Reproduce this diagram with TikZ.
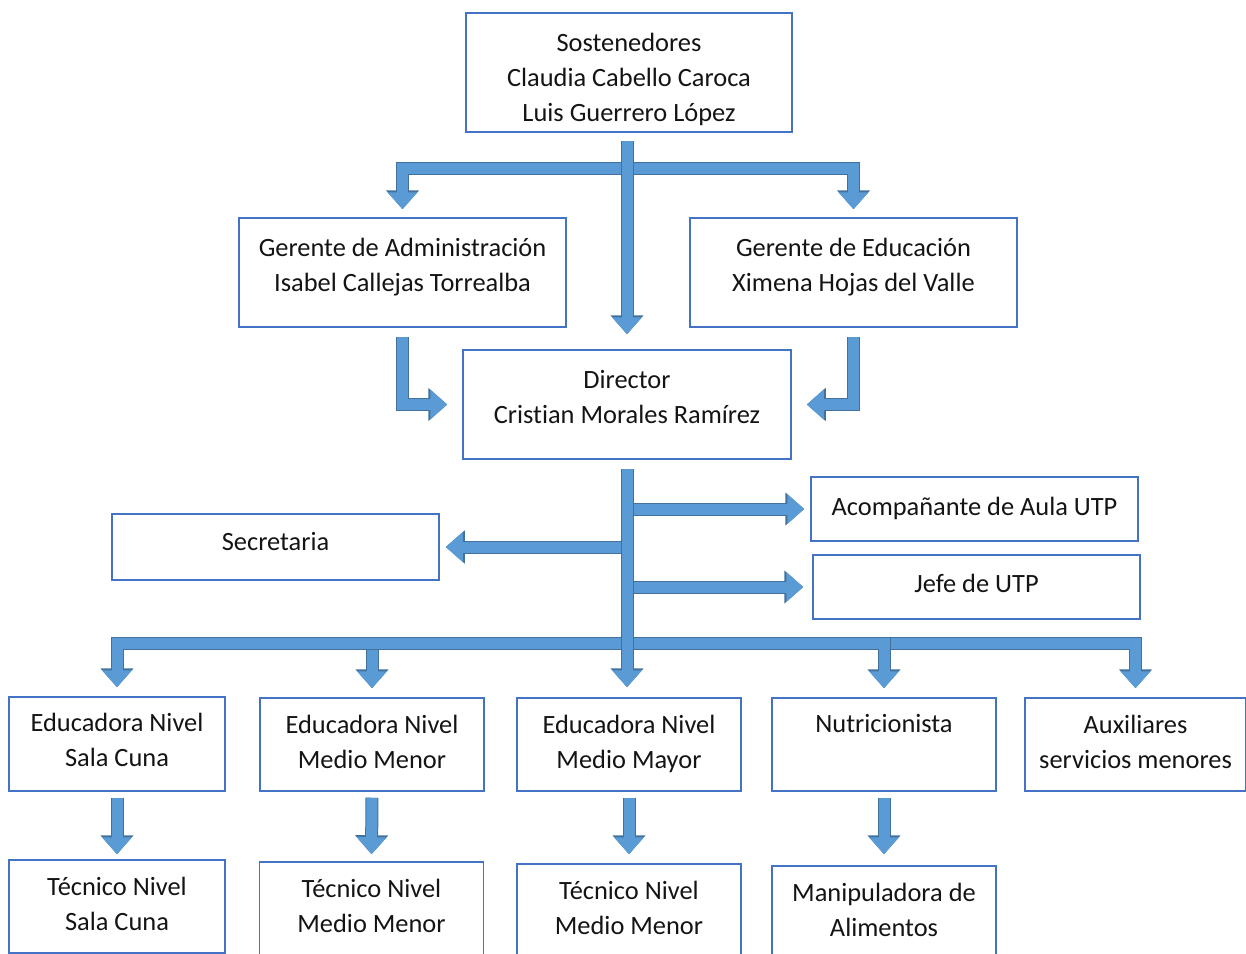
\documentclass[tikz,border=0pt]{standalone}
\usepackage{fontspec}
\setmainfont{Carlito}[Ligatures=NoCommon]
\usepackage{xcolor}
\usetikzlibrary{arrows.meta}
\usetikzlibrary{positioning}

\definecolor{boxblue}{HTML}{4472C4}
\definecolor{arrowfill}{HTML}{5B9BD5}
\definecolor{arrowline}{HTML}{41719C}

\tikzset{
    orgbox/.style={draw=boxblue, line width=1.5pt, align=center, inner sep=0pt,
        minimum width=327pt, minimum height=109pt, text=black!92,
        font=\fontsize{26.4}{35}\selectfont},
    lowbox/.style={orgbox, minimum width=224pt, minimum height=93pt},
    flow/.style={draw=arrowfill, line width=11pt, line join=miter,
        -{Triangle[length=17pt,width=29pt]},
        preaction={draw=arrowline, line width=13pt, -{Triangle[length=19pt,width=32pt]}}},
}

\begin{document}
\begin{tikzpicture}[x=1pt,y=-1pt]
    \clip (0,0) rectangle (1246,953);

    \node[orgbox, minimum width=326pt, minimum height=119pt, text height=98pt, text depth=0pt] (sost) at (629,72.5)
        {Sostenedores\\Claudia Cabello Caroca\\Luis Guerrero López};
    \node[orgbox, text depth=15pt] (gadm) at (402.5,272.5) {Gerente de Administración\\Isabel Callejas Torrealba};
    \node[orgbox, text depth=15pt] (gedu) at (853.5,272.5) {Gerente de Educación\\Ximena Hojas del Valle};
    \node[orgbox, minimum width=328pt, text depth=16pt] (dir) at (627,404.5) {Director\\Cristian Morales Ramírez};

    \node[orgbox, minimum height=64pt, text depth=6pt] (acomp) at (974.5,509) {Acompañante de Aula UTP};
    \node[orgbox, minimum height=66pt, text depth=12pt] (secr) at (275.5,547) {Secretaria};
    \node[orgbox, minimum height=64pt, text depth=8pt] (jefe) at (976.5,587) {Jefe de UTP};

    \node[lowbox, minimum width=216pt, minimum height=94pt, text depth=8pt] (edsc) at (117,744) {Educadora Nivel\\Sala Cuna};
    \node[lowbox, text depth=5pt] (edmm) at (372,744.5) {Educadora Nivel\\Medio Menor};
    \node[lowbox, text depth=5pt] (edmy) at (629,744.5) {Educadora Nivel\\Medio Mayor};
    \node[lowbox, text depth=43pt] (nutri) at (884,744.5) {Nutricionista};
    \node[lowbox, minimum width=221pt, text depth=5pt] (aux) at (1135.5,744.5) {Auxiliares\\servicios menores};

    \node[lowbox, minimum width=216pt, text depth=6pt] (tecsc) at (117,906.5) {Técnico Nivel\\Sala Cuna};
    \node[lowbox, text depth=5pt] (tecmm) at (371.5,908.5) {Técnico Nivel\\Medio Menor};
    \node[lowbox, text depth=5pt] (tecmy) at (629,910.5) {Técnico Nivel\\Medio Menor};
    \node[lowbox, text depth=5pt] (manip) at (884,912.5) {Manipuladora de\\Alimentos};

    \coordinate (busA) at (627,168);
    \coordinate (busB) at (627,643);

    % sostenedores
    \draw[flow, shorten >=8pt] (busA) -| (gadm.north);
    \draw[flow, shorten >=8pt] (busA) -| (gedu.north);
    \draw[flow, shorten <=8pt, shorten >=15pt] (dir.north |- sost.south) -- (dir.north);

    % gerentes -> director
    \draw[flow, shorten <=9pt, shorten >=15pt] (gadm.south) |- (dir.west);
    \draw[flow, shorten <=9pt, shorten >=15pt] (gedu.south) |- (dir.east);

    % director
    \draw[flow, shorten >=6pt] (dir.south |- acomp.west) -- (acomp.west);
    \draw[flow, shorten >=6pt] (dir.south |- secr.east) -- (secr.east);
    \draw[flow, shorten >=9pt] (dir.south |- jefe.west) -- (jefe.west);
    \draw[flow, shorten >=9pt] (busB) -| (aux.north);
    \draw[flow, shorten >=9pt] (busB) -| (nutri.north);
    \draw[flow, shorten >=9pt] (busB) -| (edmm.north);
    \draw[flow, shorten >=9pt] (busB) -| (edsc.north);
    \draw[flow, shorten <=9pt, shorten >=10pt] (dir.south) -- (dir.south |- edmy.north);

    % niveles
    \draw[flow, shorten <=6pt, shorten >=5pt] (edsc.south) -- (tecsc.north);
    \draw[flow, shorten <=6pt, shorten >=7pt] (edmm.south) -- (tecmm.north);
    \draw[flow, shorten <=6pt, shorten >=9pt] (edmy.south) -- (tecmy.north);
    \draw[flow, shorten <=6pt, shorten >=11pt] (nutri.south) -- (manip.north);
\end{tikzpicture}
\end{document}
